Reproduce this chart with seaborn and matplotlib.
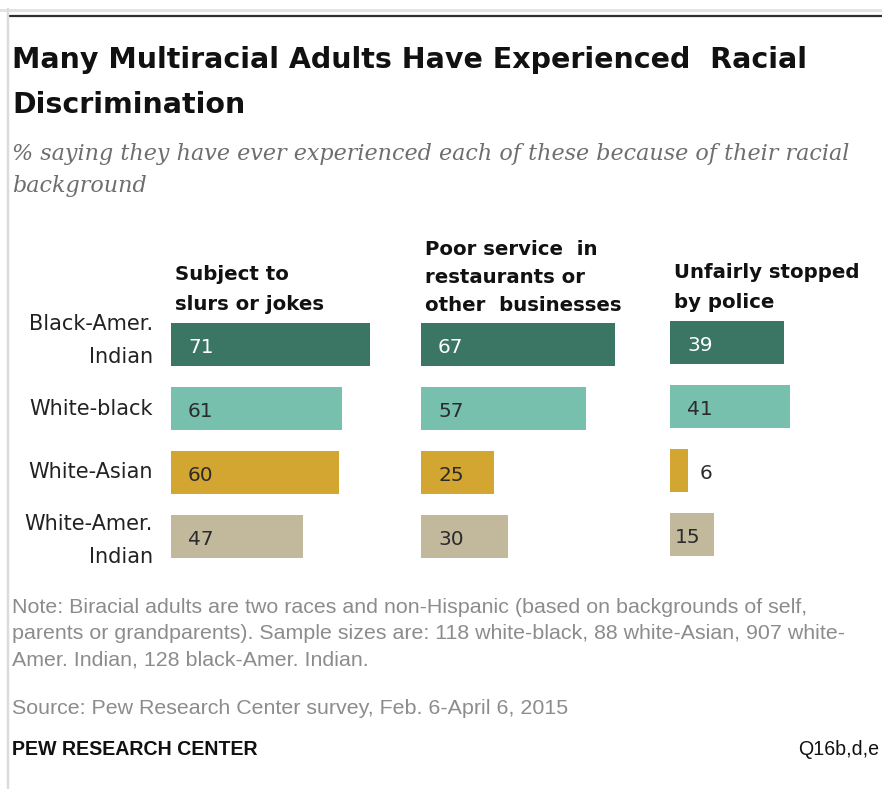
import matplotlib
matplotlib.use("Agg")
import matplotlib.pyplot as plt
import matplotlib.transforms as mtrans
import seaborn as sns
import pandas as pd
from matplotlib.lines import Line2D

# ---- data ----
groups = ["Black-Amer.\nIndian", "White-black", "White-Asian", "White-Amer.\nIndian"]
slurs = [71, 61, 60, 47]
service = [67, 57, 25, 30]
police = [39, 41, 6, 15]
header_slurs = ["Subject to", "slurs or jokes"]
header_service = ["Poor service  in", "restaurants or", "other  businesses"]
header_police = ["Unfairly stopped", "by police"]
colors = ["#3b7664", "#78c0ae", "#d2a630", "#c2b99c"]
value_colors = ["#ffffff", "#2b2b2b", "#2b2b2b", "#2b2b2b"]

title_lines = ["Many Multiracial Adults Have Experienced  Racial", "Discrimination"]
subtitle_lines = ["% saying they have ever experienced each of these because of their racial",
                  "background"]
note_lines = ["Note: Biracial adults are two races and non-Hispanic (based on backgrounds of self,",
              "parents or grandparents). Sample sizes are: 118 white-black, 88 white-Asian, 907 white-",
              "Amer. Indian, 128 black-Amer. Indian."]
source_text = "Source: Pew Research Center survey, Feb. 6-April 6, 2015"
brand_text = "PEW RESEARCH CENTER"
code_text = "Q16b,d,e"

W, H = 882, 789
sns.set_theme(style="white")
plt.rcParams["font.family"] = ["DejaVu Sans"]

fig = plt.figure(figsize=(W / 100, H / 100), dpi=100)
fig.patch.set_facecolor("white")


def fx(x):
    return x / W


def fy(y):
    return 1 - y / H


PT = 0.72  # points per pixel at 100 dpi

# frame lines
fig.add_artist(Line2D([0, 1], [fy(9.5), fy(9.5)], color="#e3e3e3", lw=3 * PT))
fig.add_artist(Line2D([fx(7.5), fx(7.5)], [fy(9), 0], color="#dcdcdc", lw=2.5 * PT))
fig.add_artist(Line2D([fx(10), 1], [fy(16), fy(16)], color="#2e2e2e", lw=2.2 * PT))

# title / subtitle
for txt, yb in zip(title_lines, [68, 113]):
    fig.text(fx(12), fy(yb), txt, fontsize=20.5, fontweight="bold", color="#111111",
             ha="left", va="baseline")
for txt, yb in zip(subtitle_lines, [160, 192]):
    fig.text(fx(12), fy(yb), txt, fontsize=16, style="italic", family="DejaVu Serif",
             color="#6e6e6e", ha="left", va="baseline")

# panels
panels = [
    (slurs, header_slurs, [280, 310], 171, 2.80, 75, 0),
    (service, header_service, [255, 283, 311], 421, 2.90, 75, 0),
    (police, header_police, [278, 308], 670, 2.92, 60, -2),
]
top, height = 312.5, 256
label_shift_px = [4, 0, 0, -4]

for k, (vals, header, hb, left, scale, xmax, dy) in enumerate(panels):
    width_px = xmax * scale
    ax = fig.add_axes([fx(left), fy(top + dy + height), width_px / W, height / H])
    df = pd.DataFrame({"group": groups, "value": vals})
    sns.barplot(data=df, y="group", x="value", hue="group", order=groups, hue_order=groups,
                palette=colors, saturation=1, orient="h", width=0.67, legend=False,
                ax=ax, linewidth=0)
    ax.set_xlim(0, xmax)
    ax.set_ylim(3.5, -0.5)
    ax.set_xlabel("")
    ax.set_ylabel("")
    ax.set_xticks([])
    for s in ax.spines.values():
        s.set_visible(False)
    ax.set_facecolor("none")
    if k == 0:
        ax.set_yticks(range(len(groups)))
        ax.set_yticklabels(groups, fontsize=15, color="#222222", ha="right",
                           linespacing=1.78, va="center")
        ax.tick_params(axis="y", length=0, pad=18 * PT)
        for lab, sh in zip(ax.get_yticklabels(), label_shift_px):
            if sh:
                lab.set_transform(lab.get_transform() +
                                  mtrans.ScaledTranslation(0, sh / 100, fig.dpi_scale_trans))
    else:
        ax.set_yticks([])
    for i, v in enumerate(vals):
        wpx = v * scale
        if wpx > 50:
            xref, off, col = 0, 17, value_colors[i]
        elif wpx >= 30:
            xref, off, col = 0, 5, value_colors[i]
        else:
            xref, off, col = v, 12, "#2b2b2b"
        ax.annotate(str(v), xy=(xref, i), xytext=(off * PT, -8.5 * PT),
                    textcoords="offset points", ha="left", va="baseline",
                    fontsize=14.5, color=col)
    for txt, yb in zip(header, hb):
        fig.text(fx(left + 4), fy(yb), txt, fontsize=14.2, fontweight="bold",
                 color="#111111", ha="left", va="baseline")

# notes
for txt, yb in zip(note_lines, [613, 639, 665]):
    fig.text(fx(12), fy(yb), txt, fontsize=15.4, family="Liberation Sans",
             color="#8c8c8c", ha="left", va="baseline")
fig.text(fx(12), fy(714), source_text, fontsize=15.4, family="Liberation Sans",
         color="#8c8c8c", ha="left", va="baseline")
fig.text(fx(12), fy(755), brand_text, fontsize=14.1, family="Liberation Sans",
         fontweight="bold", color="#111111", ha="left", va="baseline")
fig.text(fx(798), fy(755), code_text, fontsize=14.1, family="Liberation Sans",
         color="#111111", ha="left", va="baseline")

fig.savefig("out.png", dpi=100, facecolor="white")
